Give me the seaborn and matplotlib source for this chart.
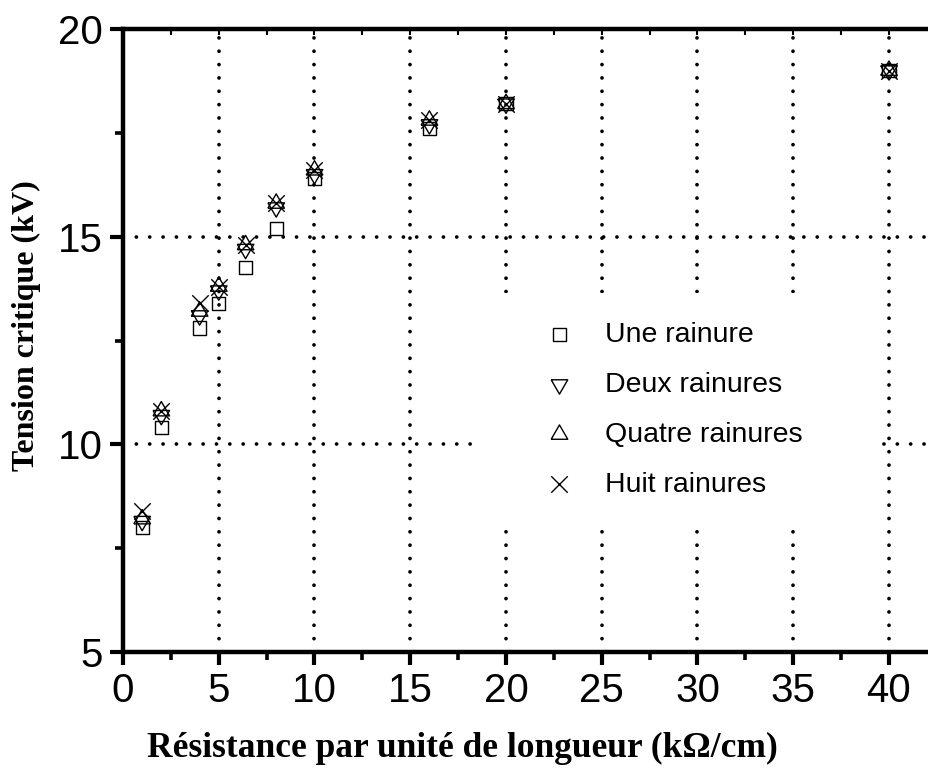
import matplotlib
matplotlib.use("Agg")
import matplotlib.pyplot as plt
from matplotlib.patches import Rectangle
import seaborn as sns
import numpy as np
import pandas as pd

# Résistance linéique (kΩ/cm) et tension critique (kV) pour chaque nombre de rainures
resistance = [1, 2, 4, 5, 6.4, 8, 10, 16, 20, 40]
une_rainure = [8.0, 10.4, 12.8, 13.4, 14.25, 15.2, 16.4, 17.6, 18.2, 19.0]
deux_rainures = [8.15, 10.7, 13.1, 13.7, 14.7, 15.7, 16.5, 17.7, 18.2, 19.0]
quatre_rainures = [8.2, 10.8, 13.2, 13.8, 14.8, 15.8, 16.6, 17.8, 18.2, 19.0]
huit_rainures = [8.4, 10.8, 13.4, 13.8, 14.8, 15.8, 16.6, 17.8, 18.2, 19.0]
series_labels = ["Une rainure", "Deux rainures", "Quatre rainures", "Huit rainures"]
x_ticks = [0, 5, 10, 15, 20, 25, 30, 35, 40]
y_ticks = [5, 10, 15, 20]

sns.set_theme(style="white")
plt.rcParams["font.family"] = ["Liberation Sans", "DejaVu Sans"]
plt.rcParams["text.color"] = "black"
plt.rcParams["axes.labelcolor"] = "black"

df = pd.DataFrame({
    "R": resistance * 4,
    "V": une_rainure + deux_rainures + quatre_rainures + huit_rainures,
    "serie": sum([[lab] * len(resistance) for lab in series_labels], []),
})

# equilateral triangles (wider than matplotlib's default ones)
h = np.sqrt(3) / 2
tri_up = [(-1, -h / 1.5), (1, -h / 1.5), (0, 2 * h - h / 1.5), (-1, -h / 1.5)]
tri_down = [(x, -y) for x, y in tri_up]
styles = {
    "Une rainure": dict(marker="s", s=90, facecolor="none", edgecolor="black", linewidth=1.0),
    "Deux rainures": dict(marker=tri_down, s=190, facecolor="none", edgecolor="black", linewidth=1.0),
    "Quatre rainures": dict(marker=tri_up, s=190, facecolor="none", edgecolor="black", linewidth=1.0),
    "Huit rainures": dict(marker="x", s=140, linewidth=1.0),
}

fig = plt.figure(figsize=(9.29, 7.72), dpi=100)
px_per_unit = 19.15
x_max = 45
ax_w_px = x_max * px_per_unit
ax = fig.add_axes([123 / 929, 120 / 772, ax_w_px / 929, 623 / 772])

for lab in series_labels:
    sub = df[df["serie"] == lab]
    sns.scatterplot(data=sub, x="R", y="V", ax=ax, color="black", label=lab,
                    zorder=3, legend=False, **styles[lab])

ax.set_xlim(0, x_max)
ax.set_ylim(5, 20)
ax.set_xticks(x_ticks)
ax.set_yticks(y_ticks)
ax.set_xticks(np.arange(2.5, x_max, 5), minor=True)
ax.set_yticks([7.5, 12.5, 17.5], minor=True)

# dotted grid at major ticks
ax.set_axisbelow(True)
ax.grid(True, which="major", color="black", linewidth=2.7,
        linestyle=(0, (0.01, 3.55)), dash_capstyle="round")

# white background behind the legend hides the grid there
ax.add_patch(Rectangle((18.5, 7.96), 39.3 - 18.5, 13.64 - 7.96,
                       facecolor="white", edgecolor="none", zorder=1))

for side in ["left", "bottom", "top", "right"]:
    ax.spines[side].set_linewidth(3.2)
    ax.spines[side].set_color("black")

ax.tick_params(axis="both", which="major", direction="out", length=9.5, width=3.0,
               labelsize=29, pad=5, colors="black")
ax.tick_params(axis="both", which="minor", direction="out", length=6, width=2.6,
               colors="black")
ax.tick_params(left=True, bottom=True, which="both")

# small inward ticks along the top edge
top = ax.secondary_xaxis("top")
top.set_xticks(x_ticks)
top.set_xticks(np.arange(2.5, x_max, 5), minor=True)
top.tick_params(which="both", direction="in", length=4, width=1.5, labeltop=False,
                colors="black")
top.spines["top"].set_visible(False)

ax.set_xlabel("Résistance par unité de longueur (kΩ/cm)", fontsize=25.5,
              fontfamily="Liberation Serif", fontweight="bold", color="black")
ax.xaxis.set_label_coords((462 - 123) / ax_w_px, -(748 - 652) / 623)
ax.xaxis.label.set_va("center")
ax.set_ylabel("Tension critique (kV)", fontsize=23,
              fontfamily="Liberation Serif", fontweight="bold", color="black")
ax.yaxis.set_label_coords((26 - 123) / ax_w_px, (652 - 326) / 623)
ax.yaxis.label.set_va("center")

handles, labels = ax.get_legend_handles_labels()
ax.legend(handles, labels, loc="center left",
          bbox_to_anchor=(531 / 929, (772 - 410) / 772), bbox_transform=fig.transFigure,
          frameon=False, fontsize=20.5, borderpad=0, borderaxespad=0,
          handletextpad=0.6, labelspacing=0.84, scatterpoints=1, labelcolor="black")

fig.savefig("out.png", dpi=100)
